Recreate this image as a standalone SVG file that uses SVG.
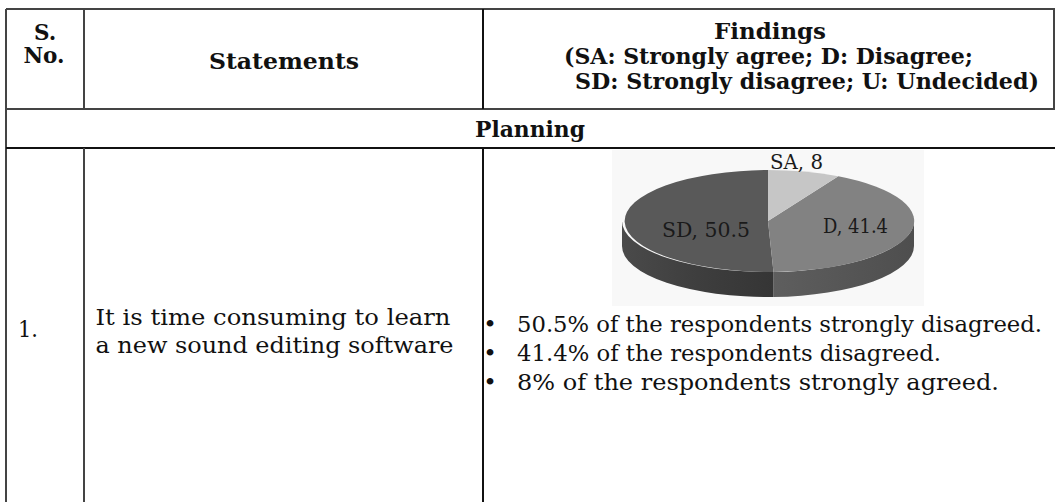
<svg xmlns="http://www.w3.org/2000/svg" width="1055" height="502" viewBox="0 0 1055 502">
<style>
.b{font-family:"DejaVu Serif","Liberation Serif",serif;font-weight:bold;font-size:21.5px;fill:#111}
.r{font-family:"DejaVu Serif","Liberation Serif",serif;font-size:23px;fill:#111}
.pl{font-family:"DejaVu Serif","Liberation Serif",serif;font-size:20.5px;fill:#1a1a1a}
.g{stroke:#444;stroke-width:2;fill:none}
.k{stroke:#111;stroke-width:2;fill:none}
</style>
<defs>
<linearGradient id="sdSide" x1="0" y1="0" x2="1" y2="0">
<stop offset="0" stop-color="#4a4a4a"/><stop offset="0.5" stop-color="#3e3e3e"/><stop offset="1" stop-color="#353535"/>
</linearGradient>
<linearGradient id="dSide" x1="0" y1="0" x2="1" y2="0">
<stop offset="0" stop-color="#5e5e5e"/><stop offset="1" stop-color="#4e4e4e"/>
</linearGradient>
</defs>
<rect width="1055" height="502" fill="#fff"/>
<g id="grid">
<line class="g" x1="6" y1="9" x2="1055" y2="9"/>
<line class="g" x1="6" y1="9" x2="6" y2="502"/>
<line class="g" x1="1054" y1="9" x2="1054" y2="109"/>
<line class="g" x1="6" y1="109" x2="1055" y2="109"/>
<line class="k" x1="6" y1="148" x2="1055" y2="148"/>
<line class="g" x1="84" y1="9" x2="84" y2="109"/>
<line class="g" x1="84" y1="148" x2="84" y2="502"/>
<line class="k" x1="483" y1="9" x2="483" y2="109"/>
<line class="k" x1="483" y1="148" x2="483" y2="502"/>
</g>
<g id="header-sno">
<text class="b" x="45" y="40" text-anchor="middle">S.</text>
<text class="b" x="44" y="63" text-anchor="middle">No.</text>
</g>
<g id="header-statements">
<text class="b" x="209" y="69" textLength="150" lengthAdjust="spacingAndGlyphs">Statements</text>
</g>
<g id="header-findings">
<text class="b" x="714" y="39" textLength="112" lengthAdjust="spacingAndGlyphs">Findings</text>
<text class="b" x="564" y="64" textLength="409" lengthAdjust="spacingAndGlyphs">(SA: Strongly agree; D: Disagree;</text>
<text class="b" x="575" y="89" textLength="464" lengthAdjust="spacingAndGlyphs">SD: Strongly disagree; U: Undecided)</text>
</g>
<g id="section-planning">
<text class="b" x="475" y="137" textLength="110" lengthAdjust="spacingAndGlyphs">Planning</text>
</g>
<g id="row1-sno">
<text class="r" x="18" y="337" textLength="20" lengthAdjust="spacingAndGlyphs">1.</text>
</g>
<g id="row1-statement">
<text class="r" x="95.5" y="325" textLength="355" lengthAdjust="spacingAndGlyphs">It is time consuming to learn</text>
<text class="r" x="95.5" y="353" textLength="358" lengthAdjust="spacingAndGlyphs">a new sound editing software</text>
</g>
<g id="row1-chart">
<rect x="612" y="150" width="312" height="156" fill="#f8f8f8"/>
<path d="M914,221 A146,51 0 0,1 773.5,272 L773.5,297 A146,51 0 0,0 914,246 Z" fill="url(#dSide)"/>
<path d="M773.5,272 A146,51 0 0,1 622,221 L622,246 A146,51 0 0,0 773.5,297 Z" fill="url(#sdSide)"/>
<path d="M768,221 L773.5,272 A146,51 0 1,1 768,170 Z" fill="#595959"/>
<path d="M768,221 L838.3,176.3 A146,51 0 0,1 773.5,272 Z" fill="#828282"/>
<path d="M768,221 L768,170 A146,51 0 0,1 838.3,176.3 Z" fill="#c6c6c6"/>
<text class="pl" x="770" y="169" textLength="53" lengthAdjust="spacingAndGlyphs">SA, 8</text>
<text class="pl" x="662" y="237" textLength="88" lengthAdjust="spacingAndGlyphs">SD, 50.5</text>
<text class="pl" x="823" y="233" textLength="65" lengthAdjust="spacingAndGlyphs">D, 41.4</text>
</g>
<g id="row1-findings">
<text class="r" x="490" y="332" text-anchor="middle">•</text>
<text class="r" x="517" y="332" textLength="525" lengthAdjust="spacingAndGlyphs">50.5% of the respondents strongly disagreed.</text>
<text class="r" x="490" y="361" text-anchor="middle">•</text>
<text class="r" x="517" y="361" textLength="424" lengthAdjust="spacingAndGlyphs">41.4% of the respondents disagreed.</text>
<text class="r" x="490" y="390" text-anchor="middle">•</text>
<text class="r" x="517" y="390" textLength="482" lengthAdjust="spacingAndGlyphs">8% of the respondents strongly agreed.</text>
</g>
</svg>
